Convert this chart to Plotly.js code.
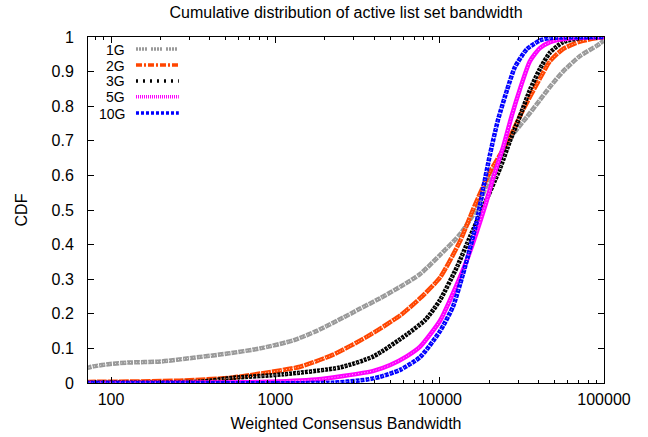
<!DOCTYPE html>
<html>
<head>
<meta charset="utf-8">
<script src="https://cdn.plot.ly/plotly-3.0.1.min.js"></script>
<style>html,body{margin:0;padding:0;background:#fff;}#chart{width:648px;height:437px;}</style>
</head>
<body>
<div id="chart"></div>
<script>
// ---- data ----
const seriesNames = ["1G", "2G", "3G", "5G", "10G"];
const seriesColors = ["#999999", "#ff4500", "#000000", "#ff00ff", "#0000ff"];

const bw1G  = [70, 78, 99, 126, 200, 317, 510, 809, 1284, 1774, 2588, 3283, 4341, 5741, 7603, 10050, 13300, 16870, 20230, 23280, 27540, 33970, 40740, 46910, 56230, 71450, 90640, 100000];
const cdf1G = [0.042, 0.048, 0.055, 0.059, 0.062, 0.073, 0.085, 0.100, 0.123, 0.150, 0.189, 0.215, 0.245, 0.278, 0.315, 0.370, 0.430, 0.505, 0.595, 0.650, 0.715, 0.769, 0.818, 0.856, 0.900, 0.945, 0.975, 0.990];

const bw2G  = [70, 276, 554, 880, 1416, 2249, 3614, 5741, 7603, 10050, 13300, 16410, 20230, 25700, 32140, 40740, 46910, 56230, 71450, 90640, 100000];
const cdf2G = [0.003, 0.007, 0.016, 0.030, 0.047, 0.082, 0.134, 0.195, 0.245, 0.305, 0.410, 0.515, 0.610, 0.694, 0.789, 0.880, 0.930, 0.965, 0.987, 0.997, 1.000];

const bw3G  = [70, 349, 554, 1117, 2477, 3960, 6300, 8200, 10050, 12760, 15310, 18880, 23280, 26790, 30830, 35400, 40740, 46910, 56230, 71450, 100000];
const cdf3G = [0.001, 0.004, 0.015, 0.025, 0.045, 0.077, 0.140, 0.183, 0.240, 0.336, 0.423, 0.520, 0.620, 0.700, 0.772, 0.847, 0.908, 0.955, 0.985, 0.997, 1.000];

const bw5G  = [70, 809, 1774, 2588, 3960, 5000, 6300, 7603, 10050, 11560, 14660, 19140, 21090, 24270, 27540, 30830, 35400, 40740, 46910, 51760, 64710, 100000];
const cdf5G = [0.000, 0.003, 0.010, 0.020, 0.035, 0.052, 0.077, 0.105, 0.180, 0.240, 0.356, 0.520, 0.590, 0.680, 0.775, 0.850, 0.930, 0.968, 0.985, 0.991, 0.997, 1.000];

const bw10G  = [70, 2249, 3614, 4341, 5741, 7603, 10050, 12050, 13870, 15310, 16870, 18360, 20230, 22630, 25700, 28710, 33970, 40740, 46910, 100000];
const cdf10G = [0.000, 0.001, 0.010, 0.018, 0.038, 0.075, 0.150, 0.221, 0.315, 0.390, 0.470, 0.560, 0.660, 0.760, 0.847, 0.913, 0.965, 0.990, 0.997, 1.000];

const xTickVals = [100, 1000, 10000, 100000];
const xTickText = ["100", "1000", "10000", "100000"];

// ---- styling ----
const seriesX = [bw1G, bw2G, bw3G, bw5G, bw10G];
const seriesY = [cdf1G, cdf2G, cdf3G, cdf5G, cdf10G];
const plotDashes = ["6px,1px", "10px,1px", "3px,1px", "solid", "4px,1px"];
const legendDashes = ["2px,1px,2px,1px,2px,1px,2px,4px", "6px,2px,2px,2px", "2px,5px", "1px,1px", "3px,2px"];
const FONT = "Liberation Sans, Arial, Helvetica, sans-serif";

const traces = [];
seriesNames.forEach((n, i) => {
  traces.push({
    x: seriesX[i], y: seriesY[i], type: "scatter", mode: "lines", name: n,
    line: {color: seriesColors[i], width: 4.5, shape: "spline", smoothing: 0.6, dash: plotDashes[i]},
    hoverinfo: "skip", showlegend: false
  });
  traces.push({
    x: seriesX[i], y: seriesY[i], type: "scatter", mode: "lines", name: n + " inner",
    line: {color: "rgba(255,255,255,0.7)", width: 1, shape: "spline", smoothing: 0.6, dash: "1px,2px"},
    hoverinfo: "skip", showlegend: false
  });
});

// minor ticks for log axis
const minorVals = [];
[10, 100, 1000, 10000].forEach(d => { for (let k = 2; k <= 9; k++) minorVals.push(d * k); });

// custom legend in gnuplot style (label right-aligned, sample to the right)
const legY = [0.965, 0.919, 0.873, 0.827, 0.780];
const annotations = [];
const shapes = [];
seriesNames.forEach((n, i) => {
  annotations.push({
    xref: "paper", yref: "paper", x: 0.074, y: legY[i], xanchor: "right", yanchor: "middle",
    text: n, showarrow: false, height: 13, borderpad: 0,
    font: {family: FONT, size: 14, color: "#000"}
  });
  shapes.push({
    type: "line", xref: "paper", yref: "paper", x0: 0.093, x1: 0.176, y0: legY[i], y1: legY[i],
    line: {color: seriesColors[i], width: 3.5, dash: legendDashes[i]}
  });
});

const layout = {
  width: 648, height: 437,
  margin: {l: 88, r: 44, t: 37, b: 54, pad: 0},
  paper_bgcolor: "#fff", plot_bgcolor: "#fff",
  font: {family: FONT, size: 16, color: "#000"},
  title: {text: "Cumulative distribution of active list set bandwidth", font: {family: FONT, size: 16, color: "#000"},
          x: 0.5, xref: "paper", y: 0.972, yref: "container", yanchor: "middle"},
  showlegend: false,
  xaxis: {
    type: "log", range: [Math.log10(72.4), 5],
    tickmode: "array", tickvals: xTickVals, ticktext: xTickText,
    ticks: "inside", ticklen: 6, tickcolor: "#000", tickwidth: 1,
    minor: {tickmode: "array", tickvals: minorVals, ticks: "inside", ticklen: 3, tickcolor: "#000", showgrid: false},
    showline: true, linecolor: "#000", linewidth: 1, mirror: "ticks",
    showgrid: false, zeroline: false, ticklabelstandoff: 2,
    tickfont: {family: FONT, size: 16, color: "#000"},
    title: {text: "Weighted Consensus Bandwidth", font: {family: FONT, size: 16, color: "#000"}, standoff: 10}
  },
  yaxis: {
    range: [0, 1], tickmode: "linear", tick0: 0, dtick: 0.1,
    ticks: "inside", ticklen: 6, tickcolor: "#000", tickwidth: 1,
    showline: true, linecolor: "#000", linewidth: 1, mirror: "ticks",
    showgrid: false, zeroline: false, ticklabelstandoff: 10,
    tickfont: {family: FONT, size: 16, color: "#000"},
    title: {text: "CDF", font: {family: FONT, size: 16, color: "#000"}, standoff: 19}
  },
  annotations: annotations,
  shapes: shapes
};

Plotly.newPlot("chart", traces, layout, {displayModeBar: false, staticPlot: true});
</script>
</body>
</html>
